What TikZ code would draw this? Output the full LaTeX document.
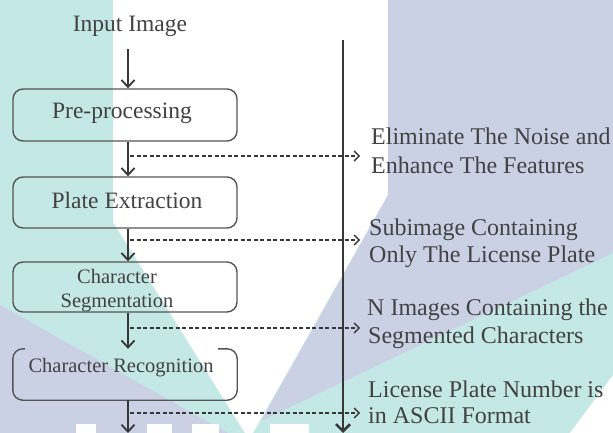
\documentclass[tikz,border=0pt]{standalone}
\usepackage{fontspec}
\setmainfont{Liberation Serif}
\usetikzlibrary{arrows.meta}
\definecolor{wmteal}{RGB}{196,232,229}
\definecolor{wmlav}{RGB}{202,209,229}
\definecolor{ink}{RGB}{66,66,66}
\definecolor{lineink}{RGB}{55,55,55}
\definecolor{boxink}{RGB}{85,85,85}
\begin{document}
\begin{tikzpicture}[x=1pt,y=-1pt,
  lbl/.style={inner sep=0pt, anchor=base, text=ink},
  bigtxt/.style={font=\fontsize{23.5}{28}\selectfont},
  smalltxt/.style={font=\fontsize{20.5}{24}\selectfont},
  rtxt/.style={inner sep=0pt, anchor=base west, text=ink, font=\fontsize{24}{28}\selectfont},
  boxshape/.style={draw=boxink, line width=1.4pt, rounded corners=10pt, minimum width=224pt, inner sep=0pt},
  hollow/.style={draw=none, minimum width=224pt, inner sep=0pt},
  flow/.style={draw=lineink, line width=1.8pt, -{Straight Barb[length=7pt,width=13pt]}},
  dots/.style={draw=lineink, line width=1.4pt, dash pattern=on 4pt off 2.5pt, -{Straight Barb[length=5pt,width=10pt]}},
  mainline/.style={draw=lineink, line width=2.6pt, -{Straight Barb[length=7pt,width=14pt]}}
]
\useasboundingbox (0,0) rectangle (613,433);
% watermark background
\fill[wmteal] (0,0) rectangle (613,433);
\fill[white] (113,0) -- (388,0) -- (388,195) -- (253,433) -- (245,433) -- (113,222) -- cycle;
\fill[wmlav] (388,0) -- (613,0) -- (613,253) -- (261,421) -- (388,195) -- cycle;
\fill[wmlav] (0,305) -- (228,433) -- (0,433) -- cycle;
\fill[white] (613,375) -- (613,433) -- (570,433) -- cycle;
\fill[white] (76,424) rectangle (96,433);
\fill[white] (147,424) rectangle (172,433);
\fill[white] (192,424) rectangle (219,433);
\fill[white] (270,424) rectangle (309,433);

% left column
\node[lbl, bigtxt] (in) at (130,32) {Input Image};
\node[boxshape, minimum height=52pt] (b1) at (125,115) {};
\node[boxshape, minimum height=51pt] (b2) at (125,202.5) {};
\node[boxshape, minimum height=50pt] (b3) at (125,287) {};
\node[hollow, minimum height=51pt] (b4) at (125,374.5) {};
\draw[draw=boxink, line width=1.4pt, rounded corners=10pt]
  ([xshift=12pt]b4.north west) -- (b4.north west) -- (b4.south west)
  -- (b4.south east) -- (b4.north east) -- ([xshift=-19pt]b4.north east);

\node[lbl, bigtxt] (t1) at (122,119) {Pre-processing};
\node[lbl, bigtxt] (t2) at (127,208) {Plate Extraction};
\node[lbl, smalltxt] (t3a) at (117,283) {Character};
\node[lbl, smalltxt] (t3b) at (117,307) {Segmentation};
\node[lbl, smalltxt] (t4) at (121,372) {Character Recognition};

\coordinate (ax) at (128,0);
\coordinate (a0) at (128,49);
\coordinate (a5) at (128,433);
\draw[flow] (a0) -- (b1.north -| ax);
\draw[flow] (b1.south -| ax) -- (b2.north -| ax);
\draw[flow] (b2.south -| ax) -- (b3.north -| ax);
\draw[flow] (b3.south -| ax) -- (b4.north -| ax);
\draw[flow] (b4.south -| ax) -- (a5);

% main vertical line
\coordinate (vtop) at (343,40);
\coordinate (vbot) at (343,433);
\draw[mainline] (vtop) -- (vbot);

% dotted arrows
\coordinate (s1) at (130,156); \coordinate (e1) at (360,156);
\coordinate (s2) at (130,240); \coordinate (e2) at (360,240);
\coordinate (s3) at (130,328); \coordinate (e3) at (360,328);
\coordinate (s4) at (130,413); \coordinate (e4) at (360,413);
\draw[dots] (s1) -- (e1);
\draw[dots] (s2) -- (e2);
\draw[dots] (s3) -- (e3);
\draw[dots] (s4) -- (e4);

% right texts
\node[rtxt] (r1a) at (371,145) {Eliminate The Noise and};
\node[rtxt] (r1b) at (371,173) {Enhance The Features};
\node[rtxt] (r2a) at (369,235) {Subimage Containing};
\node[rtxt] (r2b) at (369,262) {Only The License Plate};
\node[rtxt] (r3a) at (367,315) {N Images Containing the};
\node[rtxt] (r3b) at (368,343) {Segmented Characters};
\node[rtxt] (r4a) at (368,397) {License Plate Number is};
\node[rtxt] (r4b) at (368,423) {in ASCII Format};
\end{tikzpicture}
\end{document}
